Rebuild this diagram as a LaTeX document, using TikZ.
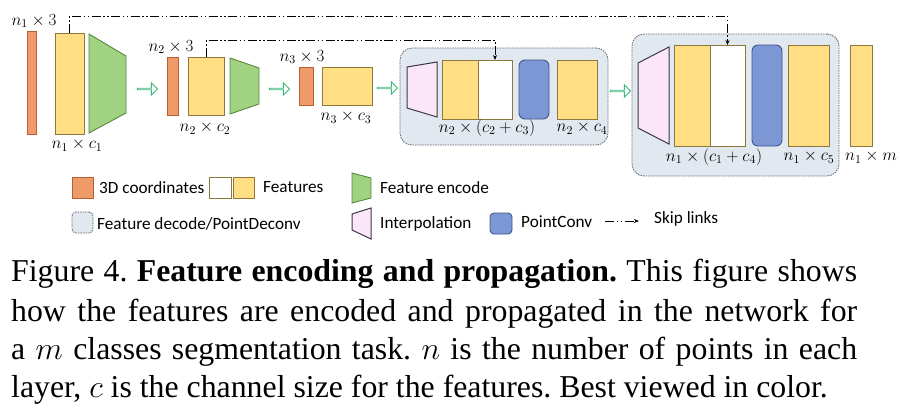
\documentclass[tikz,border=0pt]{standalone}
\usepackage{fix-cm}
\usepackage{fontspec}
\setmainfont{Liberation Serif}
\newfontfamily\legfont{Carlito}
\usetikzlibrary{fit,shapes.arrows,arrows.meta}
\definecolor{corange}{RGB}{238,155,105}
\definecolor{corangeD}{RGB}{185,95,55}
\definecolor{cyellow}{RGB}{255,222,132}
\definecolor{cyellowD}{RGB}{140,120,60}
\definecolor{cgreen}{RGB}{160,210,130}
\definecolor{cgreenD}{RGB}{85,135,60}
\definecolor{cpink}{RGB}{250,230,246}
\definecolor{cpinkD}{RGB}{60,55,70}
\definecolor{cblue}{RGB}{125,150,212}
\definecolor{cblueD}{RGB}{65,85,140}
\definecolor{cbox}{RGB}{226,232,240}
\definecolor{cboxD}{RGB}{95,100,110}
\definecolor{carrow}{RGB}{60,185,120}
\begin{document}
\frenchspacing
\begin{tikzpicture}[x=1pt,y=-1pt,
  blk/.style={inner sep=0pt,outer sep=0pt,line width=0.9pt},
  orng/.style={blk,draw=corangeD,fill=corange},
  yel/.style={blk,draw=cyellowD,fill=cyellow},
  wht/.style={blk,draw=cyellowD,fill=white},
  blu/.style={blk,draw=cblueD,fill=cblue,rounded corners=6pt},
  grn/.style={draw=cgreenD,fill=cgreen,line width=0.9pt},
  pnk/.style={draw=cpinkD,fill=cpink,line width=1pt},
  decbox/.style={blk,draw=cboxD,fill=cbox,rounded corners=12pt,dash pattern=on 1.5pt off 1pt,line width=0.8pt},
  harrow/.style={single arrow,draw=carrow,fill=white,line width=0.9pt,inner sep=0pt,minimum height=20pt,minimum width=12pt,single arrow head extend=3pt},
  skip/.style={line width=1pt,dash pattern=on 9pt off 2.5pt on 1.5pt off 2.5pt on 1.5pt off 2.5pt,-{Stealth[length=5pt,width=4pt]}},
  lbl/.style={inner sep=0pt,font=\fontsize{17}{19}\selectfont},
  leg/.style={inner sep=0pt,anchor=west,font=\legfont\fontsize{17.2}{19}\selectfont},
  captxt/.style={inner sep=0pt,anchor=base west,font=\fontsize{31.8}{36}\selectfont}]
\useasboundingbox (0,0) rectangle (900,413);
% decode boxes
\node[decbox,fit={(400,48) (608,145)}] (d1) {};
\node[decbox,fit={(632,34) (839,176)}] (d2) {};
% stage 1
\node[orng,fit={(27,31) (36,134)}] (o1) {};
\node[yel,fit={(55,33) (84,134)}] (y1) {};
\draw[grn] (89,34) -- (126,56) -- (126,113) -- (89,133) -- cycle;
\node[lbl] (l1a) at (34,21) {$n_1\times 3$};
\node[lbl] (l1b) at (77,145) {$n_1\times c_1$};
\node[harrow] (a1) at (147,89) {};
% stage 2
\node[orng,fit={(167,57) (178,115)}] (o2) {};
\node[yel,fit={(188,57) (224,115)}] (y2) {};
\draw[grn] (230,58) -- (259,68) -- (259,104) -- (230,114) -- cycle;
\node[lbl] (l2a) at (171,47) {$n_2\times 3$};
\node[lbl] (l2b) at (205,128) {$n_2\times c_2$};
\node[harrow] (a2) at (279,89) {};
% stage 3
\node[orng,fit={(299,67) (313,105)}] (o3) {};
\node[yel,fit={(322,67) (372,105)}] (y3) {};
\node[lbl] (l3a) at (302,57) {$n_3\times 3$};
\node[lbl] (l3b) at (346,117) {$n_3\times c_3$};
\node[harrow] (a3) at (387,88) {};
% decode 1
\draw[pnk] (407,67) -- (437,62) -- (437,117) -- (407,108) -- cycle;
\node[yel,fit={(442,60) (478,119)}] (y4) {};
\node[wht,fit={(478,60) (512,119)}] (w4) {};
\node[blu,fit={(519,60) (549,119)}] (b4) {};
\node[yel,fit={(557,60) (597,119)}] (y5) {};
\node[lbl] (l4) at (487,128) {$n_2\times(c_2+c_3)$};
\node[lbl] (l5) at (582,128) {$n_2\times c_4$};
\node[harrow] (a4) at (620,91) {};
% decode 2
\draw[pnk] (638,63) -- (669,47) -- (669,144) -- (638,128) -- cycle;
\node[yel,fit={(674,45) (710,146)}] (y6) {};
\node[wht,fit={(710,45) (745,146)}] (w6) {};
\node[blu,fit={(752,45) (782,146)}] (b6) {};
\node[yel,fit={(788,45) (829,146)}] (y7) {};
\node[yel,fit={(850,45) (872,146)}] (y8) {};
\node[lbl] (l6) at (714,157) {$n_1\times(c_1+c_4)$};
\node[lbl] (l7) at (809,157) {$n_1\times c_5$};
\node[lbl] (l8) at (871,157) {$n_1\times m$};
% skip links
\draw[skip] (y1.north) -- ++(0,-17) -| (w6.north);
\draw[skip] (y2.north) -- ++(0,-17) -| (w4.north);
% legend
\node[orng,fit={(72,177) (93,198)}] (go) {};
\node[leg] (gtx1) at (99,188) {3D coordinates};
\node[wht,fit={(209,177) (231,198)}] (gw) {};
\node[yel,fit={(233,177) (254,198)}] (gy) {};
\node[leg] (gtx2) at (263,187) {Features};
\draw[grn] (352,173) -- (371,178) -- (371,198) -- (352,203) -- cycle;
\node[leg] (gtx3) at (380,188) {Feature encode};
\node[decbox,rounded corners=4pt,fit={(72,212) (93,233)}] (gb) {};
\node[leg] (gtx4) at (97,224) {Feature decode/PointDeconv};
\draw[pnk] (352,214) -- (371,208) -- (371,239) -- (352,230) -- cycle;
\node[leg] (gtx5) at (380,224) {Interpolation};
\node[blu,rounded corners=4pt,fit={(490,213) (512,234)}] (gbl) {};
\node[leg] (gtx6) at (521,222) {PointConv};
\coordinate (sk1) at (605,221);
\coordinate (sk2) at (639,221);
\draw[skip] (sk1) -- (sk2);
\node[leg] (gtx7) at (654,219) {Skip links};
% caption
\node[captxt] (c1) at (11,281) {\makebox[846pt][s]{Figure 4. \textbf{Feature encoding and propagation.} This figure shows}};
\node[captxt] (c2) at (11,321) {\makebox[846pt][s]{how the features are encoded and propagated in the network for}};
\node[captxt] (c3) at (11,359) {\makebox[846pt][s]{a $m$ classes segmentation task. $n$ is the number of points in each}};
\node[captxt] (c4) at (11,397) {layer, $c$ is the channel size for the features. Best viewed in color.};
\end{tikzpicture}
\end{document}
